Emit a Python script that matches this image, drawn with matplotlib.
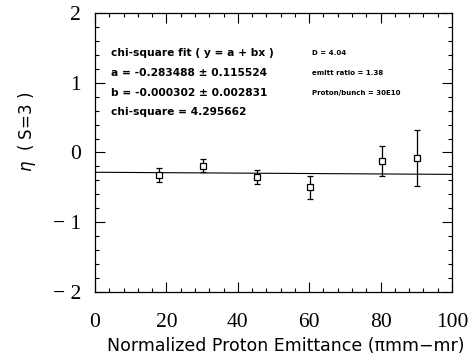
import numpy as np
import matplotlib
matplotlib.use('Agg')
import matplotlib.pyplot as plt
from matplotlib.ticker import MultipleLocator

# data
emittance = [18.0, 30.3, 45.3, 60.2, 80.3, 90.3]
eta = [-0.32, -0.19, -0.35, -0.50, -0.12, -0.08]
eta_err = [0.10, 0.09, 0.10, 0.17, 0.22, 0.40]

fit_a = -0.283488
fit_b = -0.000302
fit_x = [0, 100]

fit_lines = ["chi-square fit ( y = a + bx )",
             "a = -0.283488 ± 0.115524",
             "b = -0.000302 ± 0.002831",
             "chi-square = 4.295662"]
info_lines = ["D = 4.04", "emitt ratio = 1.38", "Proton/bunch = 30E10"]

fig = plt.figure(figsize=(4.73, 3.62), dpi=100)
ax = fig.add_axes([0.2008, 0.1934, 0.7548, 0.7707])

ax.errorbar(emittance, eta, yerr=eta_err, fmt='s', mfc='white', mec='black',
            ms=5, mew=0.9, ecolor='black', elinewidth=0.9, capsize=2, color='black')
fx = np.array(fit_x)
ax.plot(fx, fit_a + fit_b * fx, color='black', lw=0.8)

ax.set_xlim(0, 100)
ax.set_ylim(-2, 2)
ax.xaxis.set_major_locator(MultipleLocator(20))
ax.xaxis.set_minor_locator(MultipleLocator(4))
ax.yaxis.set_major_locator(MultipleLocator(1))
ax.yaxis.set_minor_locator(MultipleLocator(0.2))
ax.tick_params(which='both', direction='in', top=True, right=True, width=0.8)
ax.tick_params(which='major', length=7, labelsize=15.5)
ax.tick_params(axis='x', which='major', pad=15)
ax.tick_params(axis='y', which='major', pad=10)
ax.tick_params(which='minor', length=3)
for lab in ax.get_xticklabels():
    lab.set_family('Liberation Serif')
ax.set_yticks([-2, -1, 0, 1, 2])
ax.set_yticklabels(['\u2212 2', '\u2212 1', '0', '1', '2'], family='Liberation Serif')
for s in ax.spines.values():
    s.set_linewidth(0.9)

for i, t in enumerate(fit_lines):
    ax.text(4.5, 1.43 - i * 0.285, t, fontsize=7.7, fontweight='bold', va='center')
for i, t in enumerate(info_lines):
    ax.text(60.8, 1.43 - i * 0.285, t, fontsize=5, fontweight='bold', va='center')

fig.text(0.057, 0.635, r'$\eta$  ( S=3 )', rotation=90, ha='center', va='center', fontsize=12)
fig.text(0.605, 0.045, 'Normalized Proton Emittance (\u03c0mm\u2212mr)',
         ha='center', va='center', fontsize=12.5)

fig.savefig('out.png', dpi=100, facecolor='white')
